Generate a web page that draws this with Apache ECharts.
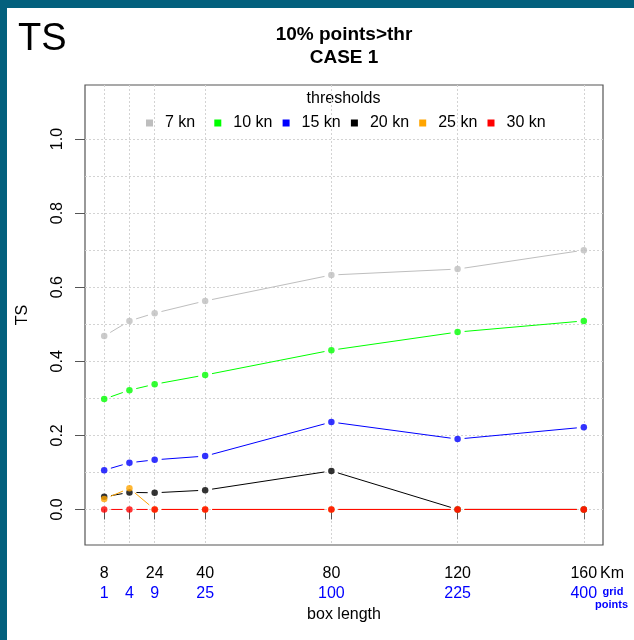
<!DOCTYPE html>
<html>
<head>
<meta charset="utf-8">
<script src="https://cdn.jsdelivr.net/npm/echarts@6/dist/echarts.min.js"></script>
<style>
  html, body { margin: 0; padding: 0; background: #ffffff; }
  #chart { width: 634px; height: 640px; }
</style>
</head>
<body>
<div id="chart"></div>
<script>
// Box length (km) on the x axis and the matching number of grid points
const boxLength = [8, 16, 24, 40, 80, 120, 160];
const kmLabels = ['8', '', '24', '40', '80', '120', '160'];
const gridPoints = [1, 4, 9, 25, 100, 225, 400];

// y ticks (labelled) and the finer dotted grid
const yTicks = [0, 0.2, 0.4, 0.6, 0.8, 1.0];
const yGrid = [0, 0.1, 0.2, 0.3, 0.4, 0.5, 0.6, 0.7, 0.8, 0.9, 1.0];

// Threat score per wind threshold
const thresholds = ['7 kn', '10 kn', '15 kn', '20 kn', '25 kn', '30 kn'];
const colors = ['#bebebe', '#00ff00', '#0000ff', '#000000', '#ffa500', '#ff0000'];
const ts7  = [0.468, 0.509, 0.530, 0.563, 0.633, 0.649, 0.700];
const ts10 = [0.298, 0.322, 0.338, 0.363, 0.430, 0.479, 0.509];
const ts15 = [0.106, 0.126, 0.134, 0.144, 0.236, 0.190, 0.222];
const ts20 = [0.034, 0.046, 0.045, 0.052, 0.104, 0, 0];
const ts25 = [0.028, 0.057, 0, 0, 0, 0, 0];
const ts30 = [0, 0, 0, 0, 0, 0, 0];
const tsValues = [ts7, ts10, ts15, ts20, ts25, ts30];

const FONT = '"Liberation Sans", Arial, Helvetica, sans-serif';
const GAP = 7; // line segments stop short of each point ("both" style)

function segments(vals) {
  const out = [];
  for (let i = 0; i < boxLength.length - 1; i++) {
    out.push([boxLength[i], vals[i], boxLength[i + 1], vals[i + 1]]);
  }
  return out;
}

function renderSegment(params, api) {
  const a = api.coord([api.value(0), api.value(1)]);
  const b = api.coord([api.value(2), api.value(3)]);
  const dx = b[0] - a[0], dy = b[1] - a[1];
  const len = Math.sqrt(dx * dx + dy * dy);
  if (len <= 2 * GAP) return null;
  const ux = dx / len, uy = dy / len;
  return {
    type: 'line',
    shape: { x1: a[0] + ux * GAP, y1: a[1] + uy * GAP, x2: b[0] - ux * GAP, y2: b[1] - uy * GAP },
    style: { stroke: api.visual('color'), lineWidth: 1 }
  };
}

const series = [];
thresholds.forEach((name, k) => {
  series.push({
    name: name,
    type: 'custom',
    xAxisIndex: 0,
    yAxisIndex: 0,
    renderItem: renderSegment,
    encode: { x: [0, 2], y: [1, 3] },
    itemStyle: { color: colors[k] },
    data: segments(tsValues[k]),
    silent: true
  });
  series.push({
    name: name,
    type: 'scatter',
    xAxisIndex: 0,
    yAxisIndex: 0,
    symbol: 'circle',
    symbolSize: 6.5,
    itemStyle: { color: colors[k] },
    data: boxLength.map((x, j) => [x, tsValues[k][j]]),
    silent: true
  });
});

const Y_MIN = -0.096, Y_MAX = 1.146;
const X_MIN = 1.92, X_MAX = 166.08;
const axisGrey = '#555555';
const gridLine = { color: '#d3d3d3', type: [2, 2], width: 1 };

const chart = echarts.init(document.getElementById('chart'), null, { renderer: 'canvas' });
chart.setOption({
  animation: false,
  backgroundColor: '#ffffff',
  textStyle: { fontFamily: FONT },
  grid: {
    left: 85, top: 85, right: 31, bottom: 95,
    show: true, borderColor: axisGrey, borderWidth: 1.2, backgroundColor: 'transparent'
  },
  legend: {
    data: thresholds.map((name, k) => ({ name: name, icon: 'rect', itemStyle: { color: colors[k] } })),
    selectedMode: false,
    left: 146, top: 114, padding: 0,
    itemWidth: 7, itemHeight: 7, itemGap: 9.3,
    textStyle: { fontFamily: FONT, fontSize: 16, color: '#000', width: 40, padding: [0, 0, 0, 7], lineHeight: 18 }
  },
  xAxis: {
    type: 'value', min: X_MIN, max: X_MAX,
    name: 'box length', nameLocation: 'middle', nameGap: 59,
    nameTextStyle: { fontFamily: FONT, fontSize: 16, color: '#000' },
    axisLine: { show: false },
    axisTick: { show: true, customValues: boxLength, length: 10, lineStyle: { color: axisGrey, width: 1 } },
    axisLabel: {
      customValues: boxLength, margin: 19,
      formatter: function (v) {
        const i = boxLength.indexOf(v);
        const km = kmLabels[i] === '' ? ' ' : kmLabels[i];
        return '{k|' + km + '}\n{g|' + gridPoints[i] + '}';
      },
      rich: {
        k: { fontFamily: FONT, fontSize: 16, color: '#000', lineHeight: 20 },
        g: { fontFamily: FONT, fontSize: 16, color: '#0000ff', lineHeight: 20 }
      }
    },
    splitLine: { show: true, lineStyle: gridLine }
  },
  yAxis: [
    {
      type: 'value', min: Y_MIN, max: Y_MAX, position: 'left',
      axisLine: { show: false },
      axisTick: { show: false, customValues: yGrid },
      axisLabel: { show: false, customValues: yGrid },
      splitLine: { show: true, lineStyle: gridLine }
    },
    {
      type: 'value', min: Y_MIN, max: Y_MAX, position: 'left',
      name: 'TS', nameLocation: 'middle', nameGap: 54, nameRotate: 90,
      nameTextStyle: { fontFamily: FONT, fontSize: 16, color: '#000' },
      axisLine: { show: false },
      axisTick: { show: true, customValues: yTicks, length: 10, lineStyle: { color: axisGrey, width: 1 } },
      axisLabel: {
        customValues: yTicks, rotate: 90, margin: 19,
        fontFamily: FONT, fontSize: 16, color: '#000',
        formatter: v => v.toFixed(1)
      },
      splitLine: { show: false }
    }
  ],
  graphic: [
    { type: 'rect', silent: true, shape: { x: 0, y: 0, width: 634, height: 8 }, style: { fill: '#03607d' } },
    { type: 'rect', silent: true, shape: { x: 0, y: 0, width: 7, height: 640 }, style: { fill: '#03607d' } },
    { type: 'text', x: 18, y: 40, style: { text: 'TS', font: '38px ' + FONT, fill: '#000', align: 'left', verticalAlign: 'middle' } },
    { type: 'text', x: 344, y: 35, style: { text: '10% points>thr', font: 'bold 19px ' + FONT, fill: '#000', align: 'center', verticalAlign: 'middle' } },
    { type: 'text', x: 344, y: 58, style: { text: 'CASE 1', font: 'bold 19px ' + FONT, fill: '#000', align: 'center', verticalAlign: 'middle' } },
    { type: 'text', x: 343.5, y: 98.5, style: { text: 'thresholds', font: '16px ' + FONT, fill: '#000', align: 'center', verticalAlign: 'middle' } },
    { type: 'text', x: 600, y: 574, style: { text: 'Km', font: '16px ' + FONT, fill: '#000', align: 'left', verticalAlign: 'middle' } },
    { type: 'text', x: 613, y: 592, style: { text: 'grid', font: 'bold 11px ' + FONT, fill: '#0000ff', align: 'center', verticalAlign: 'middle' } },
    { type: 'text', x: 611.5, y: 605, style: { text: 'points', font: 'bold 11px ' + FONT, fill: '#0000ff', align: 'center', verticalAlign: 'middle' } }
  ],
  series: series
});
</script>
</body>
</html>
